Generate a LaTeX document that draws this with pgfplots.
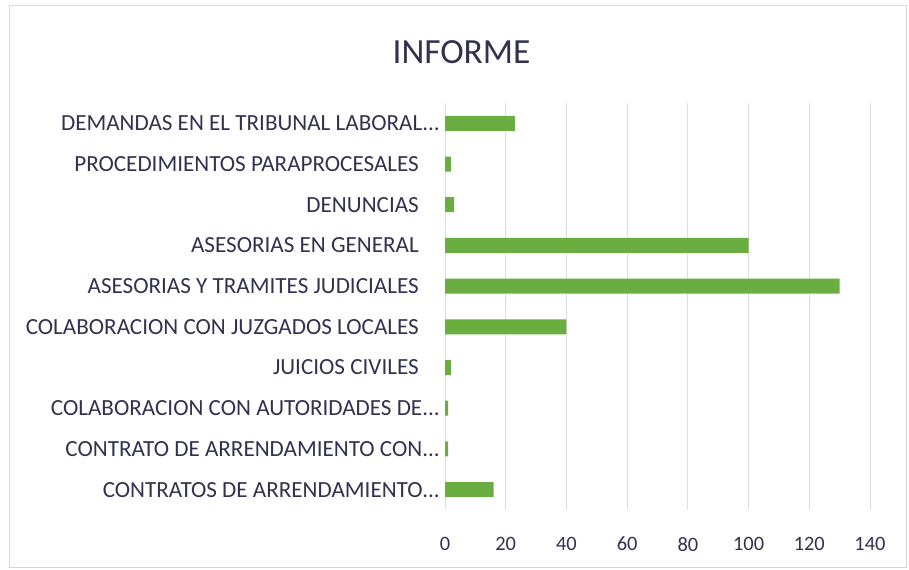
\documentclass[border=0pt]{standalone}
\usepackage{pgfplots}
\pgfplotsset{compat=1.18}
\usepackage{fontspec}
\setmainfont{Carlito}
\definecolor{bargreen}{RGB}{106,174,66}
\definecolor{txt}{RGB}{48,50,80}
\definecolor{gridc}{RGB}{222,222,226}
\definecolor{framec}{RGB}{215,215,218}
\newcommand{\pad}{\hspace*{21bp}}
\newcommand{\ddd}{...}
\begin{document}
\begin{tikzpicture}[x=1bp,y=1bp]
\path[use as bounding box] (0,0) rectangle (909,570);
\draw[framec, line width=0.8bp] (9,3) rectangle (906,565);
\node[text=txt, font=\fontsize{35.5}{40}\selectfont, inner sep=0pt] at (461.5,518) {INFORME};
\begin{axis}[
  at={(445bp,60bp)}, anchor=south west,
  scale only axis, width=425bp, height=407bp,
  xbar, bar width=15bp,
  xmin=0, xmax=140, ymin=-0.5, ymax=9.5,
  y dir=reverse,
  ytick={0,...,9},
  yticklabels={
    {DEMANDAS EN EL TRIBUNAL LABORAL\ddd},
    {PROCEDIMIENTOS PARAPROCESALES\pad},
    {DENUNCIAS\pad},
    {ASESORIAS EN GENERAL\pad},
    {ASESORIAS Y TRAMITES JUDICIALES\pad},
    {COLABORACION CON JUZGADOS LOCALES\pad},
    {JUICIOS CIVILES\pad},
    {COLABORACION CON AUTORIDADES DE\ddd},
    {CONTRATO DE ARRENDAMIENTO CON\ddd},
    {CONTRATOS DE ARRENDAMIENTO\ddd}},
  xtick={0,20,...,140},
  xmajorgrids, ymajorgrids=false,
  grid style={gridc, line width=0.8bp},
  axis line style={draw=none},
  major tick length=0pt,
  tick label style={text=txt},
  xticklabel style={font=\fontsize{20.5}{24}\selectfont},
  yticklabel style={font=\fontsize{23.2}{26}\selectfont},
  /pgf/number format/assume math mode=true,
  xticklabel style={anchor=north, inner sep=0pt, yshift=-27bp},
  yticklabel style={anchor=east, inner sep=0pt, xshift=-5bp},
]
\addplot[fill=bargreen, draw=none, bar shift=0pt] coordinates {
  (23,0) (2,1) (3,2) (100,3) (130,4) (40,5) (2,6) (1,7) (1,8) (16,9)};
\end{axis}
\end{tikzpicture}
\end{document}
